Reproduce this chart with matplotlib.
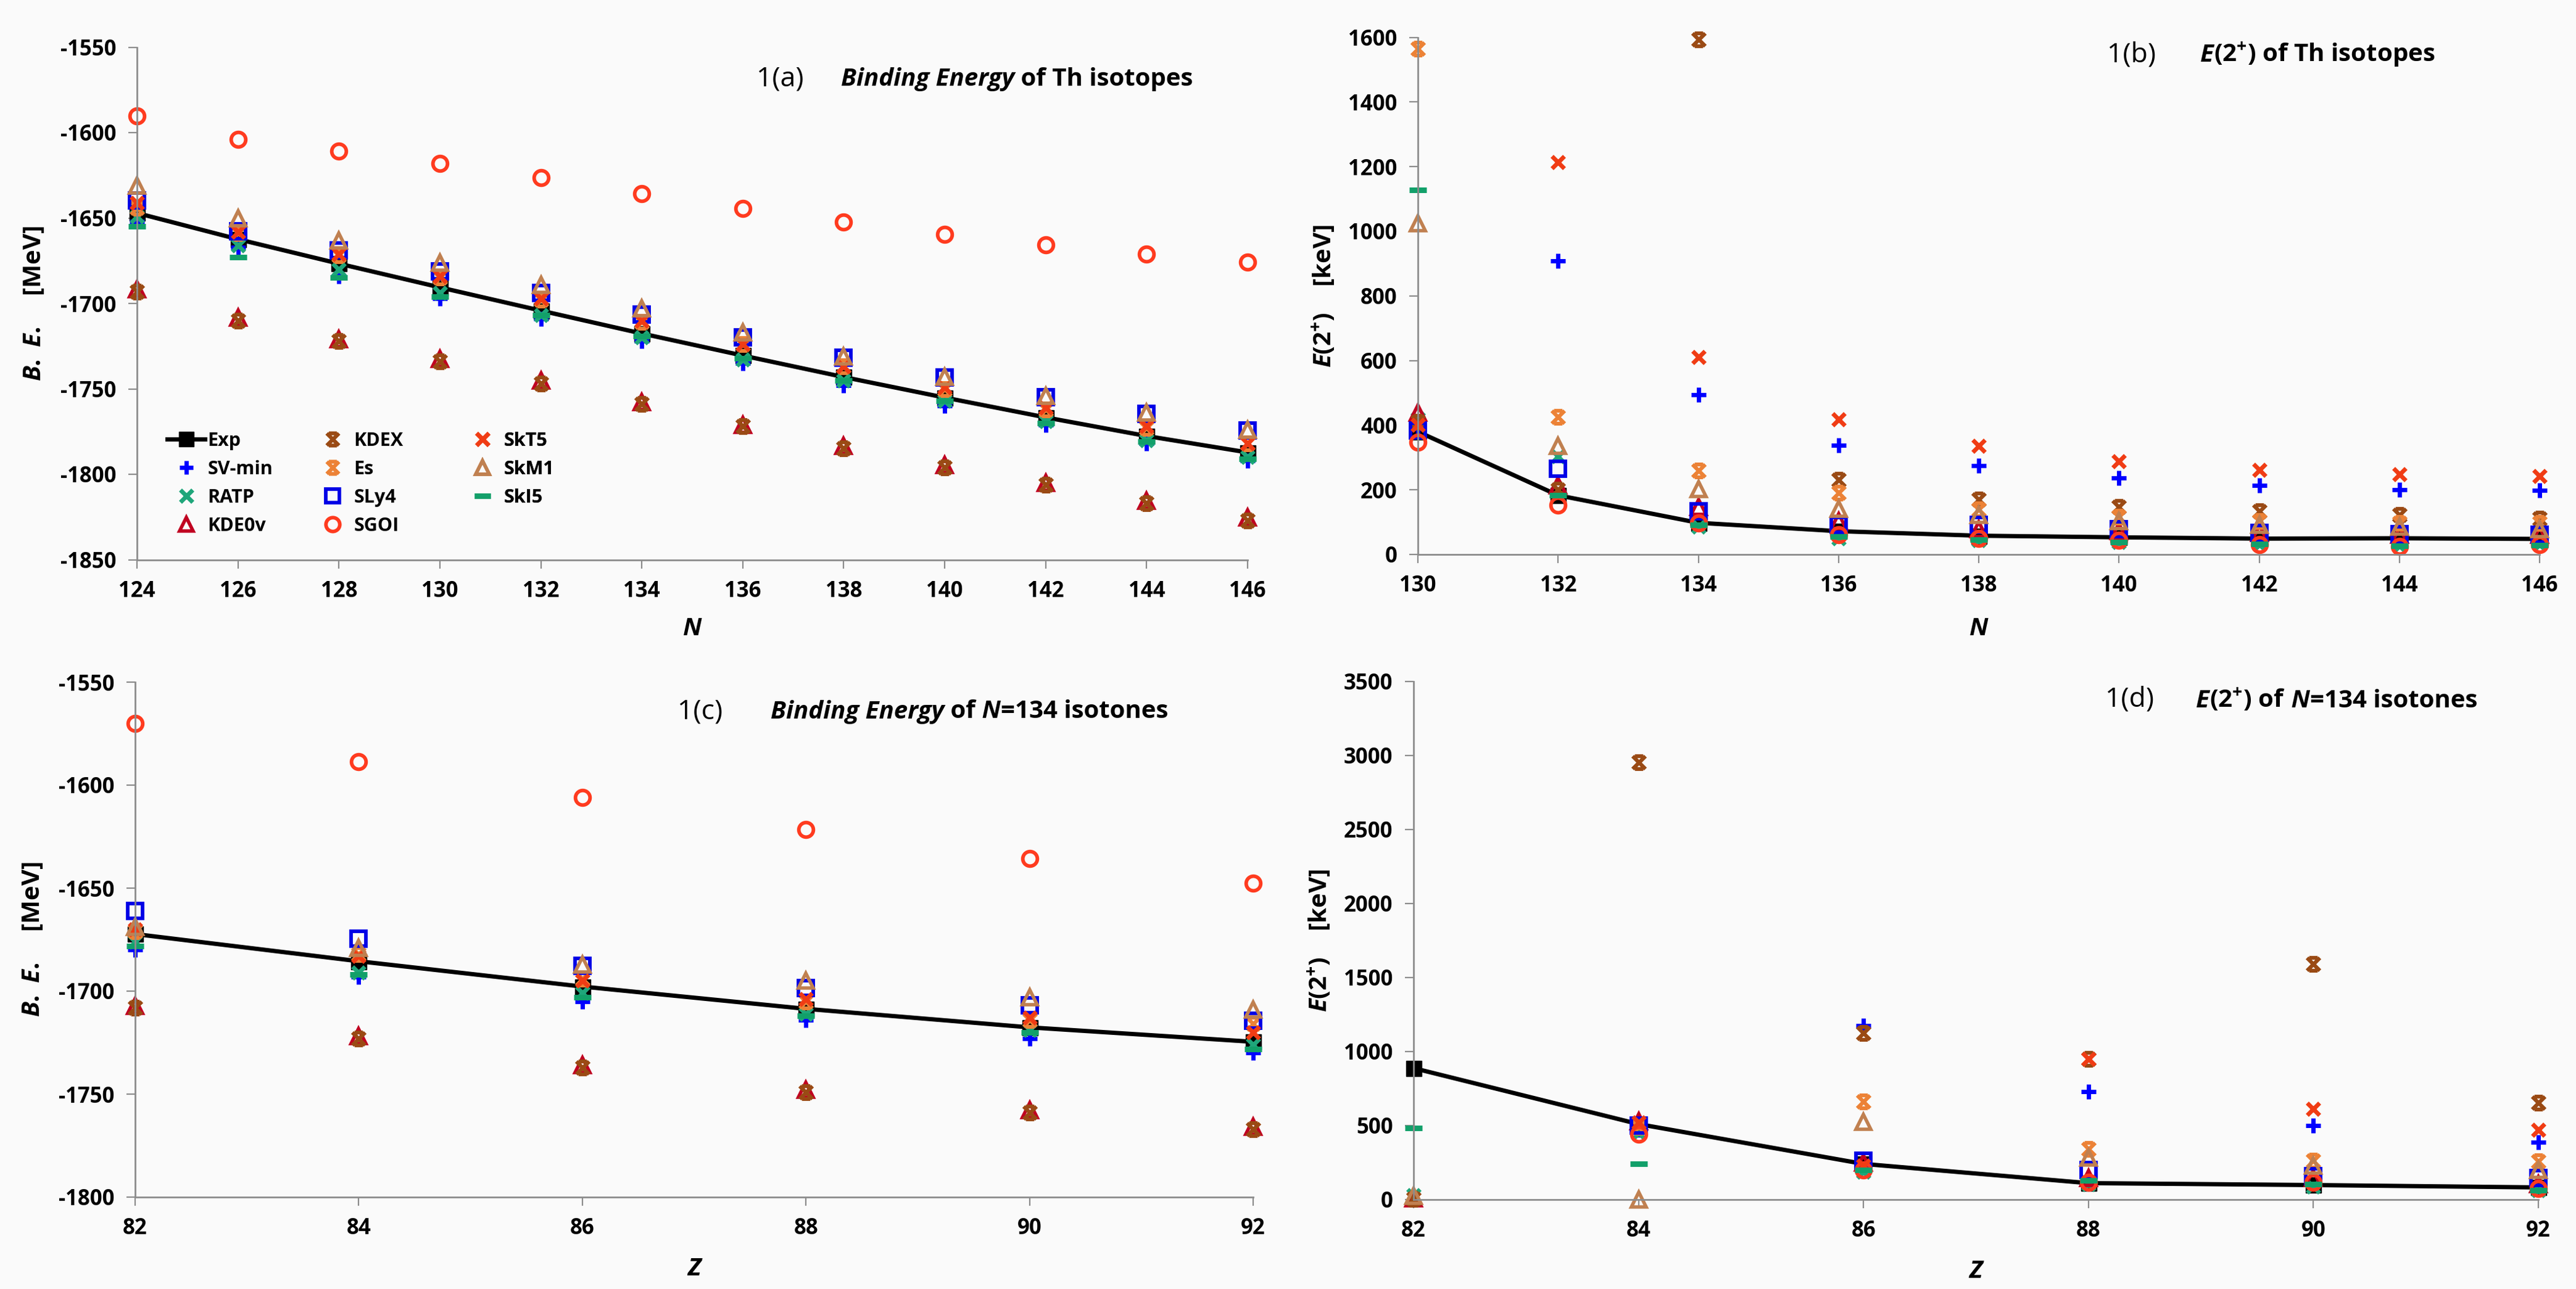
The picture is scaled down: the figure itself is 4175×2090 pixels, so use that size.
import numpy as np
import matplotlib
matplotlib.use("Agg")
import matplotlib.pyplot as plt
from matplotlib.path import Path
from matplotlib.offsetbox import TextArea, HPacker, AnchoredOffsetbox

FONT = "Open Sans"
plt.rcParams.update({
    "font.family": [FONT, "DejaVu Sans"],
    "font.weight": "bold",
    "axes.unicode_minus": False,
    "mathtext.fontset": "custom",
    "mathtext.rm": FONT + ":bold",
    "mathtext.bf": FONT + ":bold",
    "mathtext.it": FONT + ":italic:bold",
})

nan = np.nan
# ---------------- data ----------------
models = ["SV-min", "RATP", "KDE0v", "KDEX", "Es", "SLy4", "SGOI", "SkT5", "SkM1", "SkI5"]

# (a) binding energy of Th isotopes vs N
N_a = [124, 126, 128, 130, 132, 134, 136, 138, 140, 142, 144, 146]
exp_a = [-1647.1, -1662.4, -1676.7, -1690.6, -1704.2, -1717.6, -1730.5, -1743.1, -1755.1, -1766.7, -1777.6, -1787.2]
svmin_a = [-1652, -1667, -1684, -1697, -1709, -1722, -1735, -1748, -1760, -1771, -1782, -1792]
ratp_a = [-1649, -1666, -1680, -1694, -1707, -1720, -1733, -1745, -1757, -1769, -1780, -1790]
kde0v_a = [-1691.6, -1708.4, -1720.8, -1732.4, -1745.3, -1757.9, -1771.0, -1783.3, -1794.5, -1805.1, -1815.5, -1825.2]
kdex_a = [-1693, -1710, -1722, -1734, -1747, -1759, -1772, -1785, -1796, -1806, -1817, -1827]
es_a = [-1644, -1659, -1672, -1685, -1698, -1711, -1724, -1737, -1750, -1762, -1773, -1782]
sly4_a = [-1639.8, -1657.8, -1668.8, -1681.2, -1693.9, -1706.6, -1720.0, -1731.9, -1743.4, -1755.0, -1764.8, -1774.3]
sgoi_a = [-1590.3, -1604.1, -1611.0, -1617.9, -1626.4, -1635.7, -1644.4, -1652.2, -1659.4, -1665.6, -1671.1, -1675.7]
skt5_a = [-1641, -1658, -1671, -1684, -1697, -1710, -1724, -1737, -1749, -1761, -1772, -1782]
skm1_a = [-1631, -1650, -1663, -1676, -1689, -1703, -1717, -1731, -1743, -1754, -1764, -1774]
ski5_a = [-1655, -1673, -1685, -1696, -1707, -1719, -1732, -1745, -1757, -1770, -1781, -1791]

# (b) E(2+) of Th isotopes vs N
N_b = [130, 132, 134, 136, 138, 140, 142, 144, 146]
exp_b = [380, 183, 98, 72, 58, 53, 49, 50, 48]
svmin_b = [390, 909, 495, 338, 274, 237, 213, 201, 198]
ratp_b = [420, 304, 85, 49, 43, 39, 30, 27, 30]
kde0v_b = [438, 213, 146, 103, 79, 73, 67, 61, 61]
kdex_b = [410, 200, 1594, 231, 170, 146, 134, 122, 110]
es_b = [1565, 426, 259, 190, 140, 116, 103, 97, 97]
sly4_b = [383, 265, 134, 91, 91, 79, 67, 63, 61]
sgoi_b = [347, 152, 97, 61, 49, 43, 30, 24, 30]
skt5_b = [400, 1214, 611, 417, 335, 288, 262, 249, 243]
skm1_b = [1024, 335, 203, 142, 122, 103, 91, 85, 79]
ski5_b = [1128, 183, 91, 55, 46, 39, 33, 27, 28]

# (c) binding energy of N=134 isotones vs Z
Z_c = [82, 84, 86, 88, 90, 92]
exp_c = [-1672.3, -1685.5, -1697.8, -1708.6, -1717.6, -1724.6]
svmin_c = [-1680, -1693, -1705, -1714, -1723, -1730]
ratp_c = [-1676, -1691, -1701, -1711, -1719, -1726]
kde0v_c = [-1707.2, -1721.8, -1735.8, -1747.9, -1757.9, -1765.9]
kdex_c = [-1708, -1723, -1737, -1749, -1759, -1767]
es_c = [-1671, -1682, -1694, -1705, -1714, -1716]
sly4_c = [-1661.1, -1674.7, -1687.7, -1698.4, -1706.8, -1714.4]
sgoi_c = [-1570.0, -1588.5, -1606.1, -1621.6, -1635.6, -1647.6]
skt5_c = [-1670, -1683, -1695, -1704, -1713, -1720]
skm1_c = [-1669, -1679, -1687, -1695, -1703, -1709]
ski5_c = [-1678, -1692, -1703, -1712, -1720, -1728]

# (d) E(2+) of N=134 isotones vs Z
Z_d = [82, 84, 86, 88, 90, 92]
exp_d = [888, 510, 241, 111, 98, 82]
svmin_d = [nan, 470, 1177, 731, 499, 388]
ratp_d = [30, 450, 187, 103, 89, 61]
kde0v_d = [10, 530, 251, 145, 145, 103]
kdex_d = [5, 2956, 1127, 948, 1590, 655]
es_d = [nan, 490, 661, 340, 262, 257]
sly4_d = [nan, 500, 262, 201, 159, 145]
sgoi_d = [nan, 440, 201, 117, 117, 75]
skt5_d = [nan, 520, 229, 948, 614, 471]
skm1_d = [25, 0, 527, 284, 229, 201]
ski5_d = [485, 243, 201, 131, 103, 61]

# ---------------- styles ----------------
star = Path([(-1, -1), (1, 1), (-1, 1), (1, -1), (-0.65, 1), (0.65, 1), (-0.65, -1), (0.65, -1)],
            [Path.MOVETO, Path.LINETO] * 4)
styles = {
    "SV-min": dict(marker="+", ms=17, mew=5.0, mec="#0000FF", mfc="none"),
    "RATP":   dict(marker="x", ms=15, mew=5.0, mec="#1FA67A", mfc="none"),
    "KDE0v":  dict(marker="^", ms=17, mew=4.0, mec="#C00020", mfc="none"),
    "KDEX":   dict(marker=star, ms=15, mew=4.5, mec="#9A4A14", mfc="none"),
    "Es":     dict(marker=star, ms=15, mew=4.5, mec="#EC8236", mfc="none"),
    "SLy4":   dict(marker="s", ms=17, mew=4.2, mec="#0000E6", mfc="none"),
    "SGOI":   dict(marker="o", ms=17, mew=4.2, mec="#FF3B1F", mfc="none"),
    "SkT5":   dict(marker="x", ms=15, mew=5.0, mec="#F03C14", mfc="none"),
    "SkM1":   dict(marker="^", ms=17, mew=4.0, mec="#C08050", mfc="none"),
    "SkI5":   dict(marker="_", ms=20, mew=6.5, mec="#12A06A", mfc="none"),
}
AXC = "#8C8C8C"

W, H = 4175, 2090
fig = plt.figure(figsize=(W / 100, H / 100), dpi=100, facecolor="#FAFAFA")


def rect(x0, x1, ytop, ybot):
    return [x0 / W, 1 - ybot / H, (x1 - x0) / W, (ybot - ytop) / H]


ax_a = fig.add_axes(rect(222, 2022, 76.5, 907.5))
ax_b = fig.add_axes(rect(2298, 4116, 60.6, 899))
ax_c = fig.add_axes(rect(219, 2031, 1106, 1941))
ax_d = fig.add_axes(rect(2291, 4114, 1105, 1945))


def style(ax, xlim, xstep, ylim, ystep):
    ax.set_facecolor("none")
    for s in ["top", "right"]:
        ax.spines[s].set_visible(False)
    for s in ["left", "bottom"]:
        ax.spines[s].set_color(AXC)
        ax.spines[s].set_linewidth(2)
    ax.set_xlim(*xlim)
    ax.set_ylim(*ylim)
    ax.set_xticks(np.arange(xlim[0], xlim[1] + 0.1, xstep))
    ax.set_yticks(np.arange(ylim[0], ylim[1] + 0.1, ystep))
    ax.tick_params(direction="out", length=10, width=1.6, color=AXC,
                   labelsize=25, pad=14, labelcolor="black")
    for lbl in ax.get_xticklabels() + ax.get_yticklabels():
        lbl.set_fontweight("bold")


def draw(ax, x, exp, series):
    lines = []
    lines.append(ax.plot(x, exp, color="black", lw=5, marker="s", ms=18,
                         mfc="black", mec="black", clip_on=False, label="Exp")[0])
    for name, vals in zip(models, series):
        lines.append(ax.plot(x, vals, linestyle="none", clip_on=False, label=name,
                             **styles[name])[0])
    return lines


h = draw(ax_a, N_a, exp_a, [svmin_a, ratp_a, kde0v_a, kdex_a, es_a, sly4_a, sgoi_a, skt5_a, skm1_a, ski5_a])
draw(ax_b, N_b, exp_b, [svmin_b, ratp_b, kde0v_b, kdex_b, es_b, sly4_b, sgoi_b, skt5_b, skm1_b, ski5_b])
draw(ax_c, Z_c, exp_c, [svmin_c, ratp_c, kde0v_c, kdex_c, es_c, sly4_c, sgoi_c, skt5_c, skm1_c, ski5_c])
draw(ax_d, Z_d, exp_d, [svmin_d, ratp_d, kde0v_d, kdex_d, es_d, sly4_d, sgoi_d, skt5_d, skm1_d, ski5_d])

style(ax_a, (124, 146), 2, (-1850, -1550), 50)
style(ax_b, (130, 146), 2, (0, 1600), 200)
style(ax_c, (82, 92), 2, (-1800, -1550), 50)
style(ax_d, (82, 92), 2, (0, 3500), 500)

LBL = 29
be_label = r"$\mathit{B.\ E.}$    [MeV]"
e2_label = r"$\mathit{E}$(2$^{+}$)    [keV]"
for ax, xl, yl, xfy, yfx in [
    (ax_a, "N", be_label, 1020, 56),
    (ax_b, "N", e2_label, 1020, 2145),
    (ax_c, "Z", be_label, 2058, 53),
    (ax_d, "Z", e2_label, 2061, 2138),
]:
    ax.set_xlabel(xl, fontsize=LBL, fontstyle="italic", fontweight="bold", va="center")
    ax.set_ylabel(yl, fontsize=LBL, fontweight="bold", va="center")
    bb = ax.get_position()
    y0 = 1 - xfy / H
    ax.xaxis.set_label_coords(0.5, (y0 - bb.y0) / bb.height)
    x0 = yfx / W
    ax.yaxis.set_label_coords((x0 - bb.x0) / bb.width, 0.5)

# titles
TT = 29
BI = dict(fontsize=TT, fontweight="bold", fontstyle="italic")
BO = dict(fontsize=TT, fontweight="bold")
titles = [
    (1226, 1363, 128, "1(a)", [("Binding Energy", BI), (" of Th isotopes", BO)]),
    (3415, 3566, 89, "1(b)", [("E", BI), ("(2$^{+}$) of Th isotopes", BO)]),
    (1098, 1249, 1154, "1(c)", [("Binding Energy", BI), (" of", BO), (" N", BI), ("=134 isotones", BO)]),
    (3412, 3559, 1134, "1(d)", [("E", BI), ("(2$^{+}$) of", BO), (" N", BI), ("=134 isotones", BO)]),
]


def place(parts, xp, yp):
    kids = [TextArea(t, textprops=p) for t, p in parts]
    box = HPacker(children=kids, align="baseline", pad=0, sep=0)
    anch = AnchoredOffsetbox(loc="center left", child=box, pad=0, borderpad=0, frameon=False,
                             bbox_to_anchor=(xp / W, 1 - yp / H), bbox_transform=fig.transFigure)
    fig.add_artist(anch)


for xa, xb, yc, tag, parts in titles:
    place([(tag, dict(fontsize=TT + 3, fontweight="normal"))], xa, yc)
    place(parts, xb, yc)

# legend (three columns) in panel (a)
cols = [h[0:4], h[4:8], h[8:11]]
xs = [271, 508, 751]
bb = ax_a.get_position()
for hs, xp in zip(cols, xs):
    ax_ = (xp / W - bb.x0) / bb.width
    ay_ = ((1 - 700 / H) - bb.y0) / bb.height
    leg = ax_a.legend(handles=hs, loc="upper left", bbox_to_anchor=(ax_, ay_),
                      frameon=False, prop=dict(size=22, weight="bold"),
                      borderpad=0, borderaxespad=0,
                      handlelength=2.0, handletextpad=0.15, labelspacing=0.52,
                      numpoints=1, markerscale=0.95)
    ax_a.add_artist(leg)

fig.savefig("out.png", dpi=100, facecolor=fig.get_facecolor())
